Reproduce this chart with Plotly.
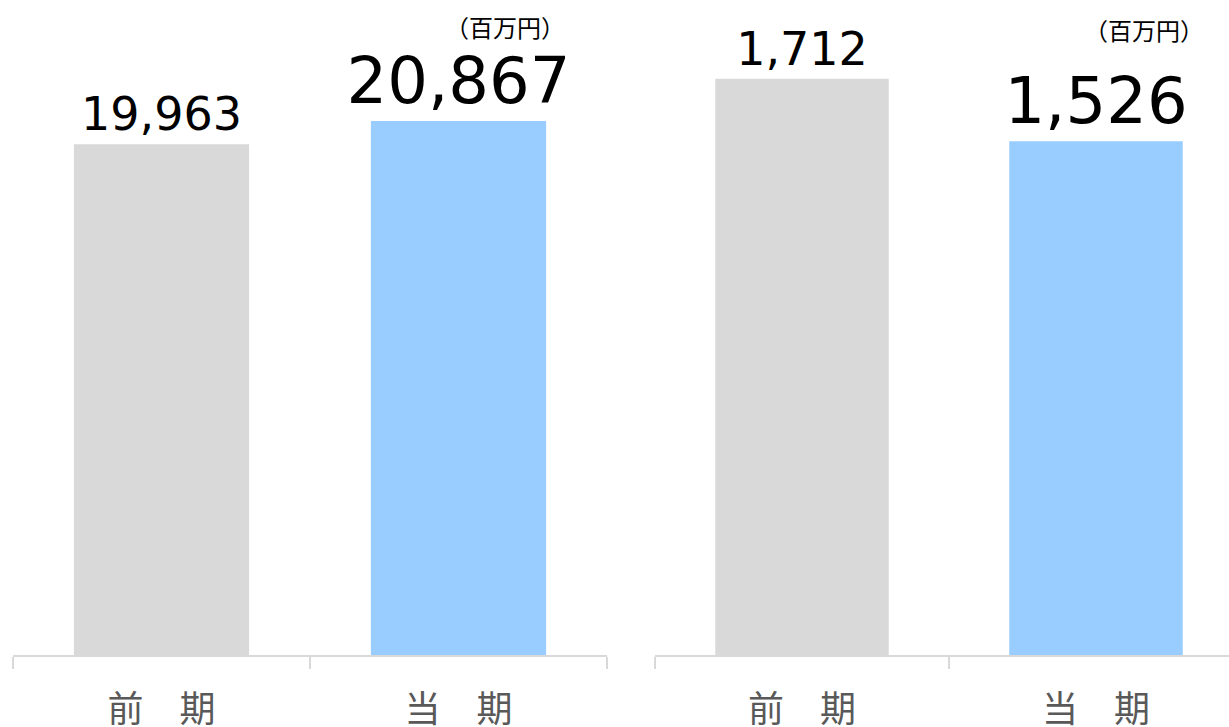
import plotly.graph_objects as go

categories = ["前　期", "当　期"]
sales_values = [19963, 20867]
profit_values = [1712, 1526]
bar_colors = ["#d9d9d9", "#99ccff"]
label_sizes = [46, 64]
unit_label = "（百万円）"

W, H = 1229, 727
BASE = 655  # axis line position in px

fig = go.Figure()

fig.add_trace(go.Bar(
    x=categories, y=sales_values, marker_color=bar_colors,
    text=[f"{v:,}" for v in sales_values], textposition="outside",
    textfont=dict(size=label_sizes, color="#000000", family="DejaVu Sans"),
    constraintext="none", cliponaxis=False, xaxis="x", yaxis="y",
    hoverinfo="skip", marker_line_width=0,
))
fig.add_trace(go.Bar(
    x=categories, y=profit_values, marker_color=bar_colors,
    text=[f"{v:,}" for v in profit_values], textposition="outside",
    textfont=dict(size=label_sizes, color="#000000", family="DejaVu Sans"),
    constraintext="none", cliponaxis=False, xaxis="x2", yaxis="y2",
    hoverinfo="skip", marker_line_width=0,
))

axis_common = dict(
    type="category", showline=True, linecolor="#d9d9d9", linewidth=2,
    ticks="outside", tickson="boundaries", ticklen=12, tickcolor="#d9d9d9", tickwidth=2,
    showgrid=False, zeroline=False, ticklabelstandoff=22, automargin=False,
    tickfont=dict(size=36, color="#595959", family="Noto Sans CJK JP"),
)
left0, left1 = 13 / W, 607 / W
right0 = 655 / W
right_span = (W - 655) / 294.0

fig.update_layout(
    width=W, height=H,
    margin=dict(l=0, r=0, t=0, b=H - BASE, autoexpand=False),
    paper_bgcolor="white", plot_bgcolor="white",
    showlegend=False, bargap=0.41,
    font=dict(family="Noto Sans CJK JP"),
    xaxis=dict(domain=[left0, left1], range=[-0.5, 1.5], anchor="y", **axis_common),
    xaxis2=dict(domain=[right0, 1.0], range=[-0.5, -0.5 + right_span], anchor="y2", **axis_common),
    yaxis=dict(domain=[0, 1], range=[0, BASE / 0.02559], visible=False, anchor="x"),
    yaxis2=dict(domain=[0, 1], range=[0, BASE / 0.3366], visible=False, anchor="x2"),
    annotations=[
        dict(text=unit_label, xref="paper", yref="paper", x=505 / W, y=1 - 27 / BASE,
             showarrow=False, font=dict(size=24, color="#000000", family="Noto Sans CJK JP"),
             xanchor="center", yanchor="middle"),
        dict(text=unit_label, xref="paper", yref="paper", x=1144 / W, y=1 - 29 / BASE,
             showarrow=False, font=dict(size=24, color="#000000", family="Noto Sans CJK JP"),
             xanchor="center", yanchor="middle"),
    ],
)

fig.write_html("out.html", config={"displayModeBar": False},
               post_script="document.body.style.margin='0';")
